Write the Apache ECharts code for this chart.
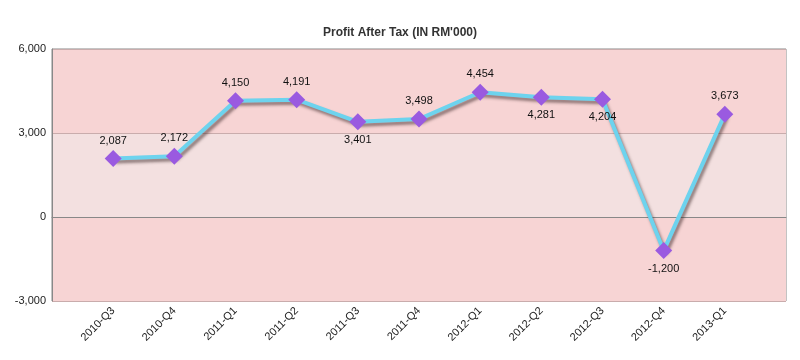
<!DOCTYPE html>
<html><head><meta charset="utf-8">
<script src="https://cdn.jsdelivr.net/npm/echarts@6/dist/echarts.min.js"></script>
<style>html,body{margin:0;padding:0;background:#fff}#c{width:800px;height:360px}</style>
</head><body><div id="c"></div>
<script>
const categories = ['2010-Q3','2010-Q4','2011-Q1','2011-Q2','2011-Q3','2011-Q4','2012-Q1','2012-Q2','2012-Q3','2012-Q4','2013-Q1'];
const profit = [2087,2172,4150,4191,3401,3498,4454,4281,4204,-1200,3673];
const labelBelow = [false,false,false,false,true,false,false,true,true,true,false];
const yTicks = [-3000,0,3000,6000];

const xData = [''].concat(categories, ['']);
const seriesData = [null].concat(profit.map((v,i)=>({
  value:v,
  label:{position: labelBelow[i] ? 'bottom' : 'top'}
})), [null]);

const chart = echarts.init(document.getElementById('c'));
chart.setOption({
  animation:false,
  title:{text:"Profit After Tax (IN RM'000)", left:'center', top:22,
    textStyle:{fontFamily:'Liberation Sans, Arial', fontSize:12, fontWeight:'bold', color:'#333'}},
  grid:{left:52, right:14, top:49, bottom:59, show:true, borderColor:'#888', borderWidth:1, backgroundColor:'transparent'},
  xAxis:{type:'category', data:xData, boundaryGap:false,
    axisLine:{lineStyle:{color:'#888'}}, axisTick:{show:false},
    axisLabel:{rotate:45, interval:0, fontFamily:'Liberation Sans, Arial', fontSize:11, color:'#222', margin:8},
    splitLine:{show:false}},
  yAxis:{type:'value', min:yTicks[0], max:yTicks[yTicks.length-1], interval:3000,
    axisLine:{show:true, lineStyle:{color:'#888'}}, axisTick:{show:false},
    axisLabel:{fontFamily:'Liberation Sans, Arial', fontSize:11, color:'#222', margin:6,
      formatter:v=>v.toLocaleString('en-US')},
    splitLine:{show:true, lineStyle:{color:'#c9acac', width:1}},
    splitArea:{show:true, areaStyle:{color:['#f7d4d4','#f3e0e0']}}},
  series:[{
    type:'line', data:seriesData, connectNulls:false,
    symbol:'diamond', symbolSize:[17,17],
    itemStyle:{color:'#9a5ae0'},
    lineStyle:{color:'#6dd3ee', width:4, shadowColor:'rgba(60,40,40,0.55)', shadowBlur:3, shadowOffsetX:2, shadowOffsetY:3},
    label:{show:true, distance:4, fontFamily:'Liberation Sans, Arial', fontSize:11, color:'#111',
      formatter:p=>p.value.toLocaleString('en-US')},
    z:3
  }]
});
</script></body></html>
